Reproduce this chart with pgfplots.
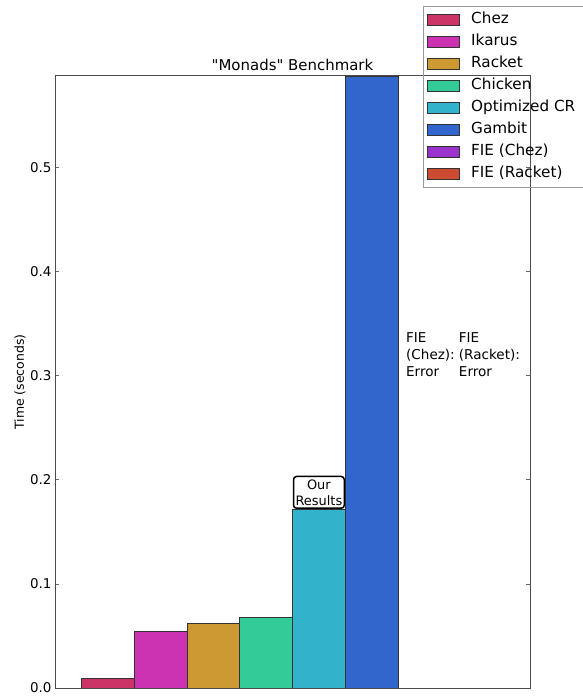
\documentclass[border=0pt]{standalone}
\usepackage{pgfplots}
\pgfplotsset{compat=1.18}
\usepackage{fontspec}
\setmainfont{DejaVu Sans}[Ligatures=TeXOff]
\definecolor{cChez}{HTML}{CC3366}
\definecolor{cIkarus}{HTML}{CC33B2}
\definecolor{cRacket}{HTML}{CC9933}
\definecolor{cChicken}{HTML}{33CC99}
\definecolor{cOptCR}{HTML}{33B2CC}
\definecolor{cGambit}{HTML}{3366CC}
\definecolor{cFIEChez}{HTML}{9933CC}
\definecolor{cFIERacket}{HTML}{CC4C33}
\pgfplotsset{
  mybar/.style={ybar, bar width=1, bar shift=0pt, draw=black!80, line width=0.8bp,
    legend image code/.code={\draw[##1] (0bp,-5.5bp) rectangle (32bp,5.5bp);}},
}
\begin{document}
\begin{tikzpicture}
\path[use as bounding box] (-55bp,-10bp) rectangle (528bp,688bp);
\begin{axis}[
  at={(0,0)}, anchor=south west,
  scale only axis, width=475bp, height=612bp,
  xmin=-1, xmax=8, ymin=0, ymax=0.588,
  xtick=\empty,
  ytick={0,0.1,0.2,0.3,0.4,0.5},
  yticklabel style={/pgf/number format/.cd, fixed, fixed zerofill, precision=1, assume math mode=true},
  tick label style={font=\fontsize{13.5}{16}\selectfont, text=black},
  tick align=inside, major tick length=4bp,
  every tick/.style={black!60, line width=0.8bp},
  axis line style={black!70, line width=1bp},
  title={"Monads" Benchmark},
  title style={font=\fontsize{15}{17}\selectfont, yshift=-4bp},
  ylabel={Time (seconds)},
  every axis y label/.style={at={(axis description cs:-0.0737,0.5)}, rotate=90, anchor=center, font=\fontsize{12.5}{15}\selectfont},
  axis on top,
  clip=false,
  legend cell align=left,
  legend style={at={(1.1116,1.1144)}, anchor=north east, draw=black!40, fill=none,
    font=\fontsize{15.3}{18}\selectfont, inner xsep=4.5bp, inner ysep=3bp, row sep=0bp,
    nodes={inner xsep=3bp, inner ysep=3.6bp, text height=11.2bp, text depth=3.5bp},
    /tikz/every odd column/.append style={column sep=8bp}},
]
\addplot[mybar, fill=cChez] coordinates {(0,0.0096)};
\addlegendentry{Chez}
\addplot[mybar, fill=cIkarus] coordinates {(1,0.0548)};
\addlegendentry{Ikarus}
\addplot[mybar, fill=cRacket] coordinates {(2,0.0625)};
\addlegendentry{Racket}
\addplot[mybar, fill=cChicken] coordinates {(3,0.0682)};
\addlegendentry{Chicken}
\addplot[mybar, fill=cOptCR] coordinates {(4,0.1720)};
\addlegendentry{Optimized CR}
\addplot[mybar, fill=cGambit] coordinates {(5,0.588)};
\addlegendentry{Gambit}
\addplot[mybar, fill=cFIEChez] coordinates {(6,0)};
\addlegendentry{FIE (Chez)}
\addplot[mybar, fill=cFIERacket] coordinates {(7,0)};
\addlegendentry{FIE (Racket)}
\node[draw=black, rounded corners=3bp, line width=1.5bp, align=center, anchor=south,
  font=\fontsize{13}{16}\selectfont, inner xsep=2bp, inner ysep=3bp, fill=white] at (axis cs:4,0.172) {Our\\Results};
\node[anchor=north west, align=left, font=\fontsize{13.6}{17}\selectfont, inner sep=0pt]
  at (axis cs:5.65,0.3413) {FIE\\(Chez):\\Error};
\node[anchor=north west, align=left, font=\fontsize{13.6}{17}\selectfont, inner sep=0pt]
  at (axis cs:6.65,0.3413) {FIE\\(Racket):\\Error};
\end{axis}
\end{tikzpicture}
\end{document}
